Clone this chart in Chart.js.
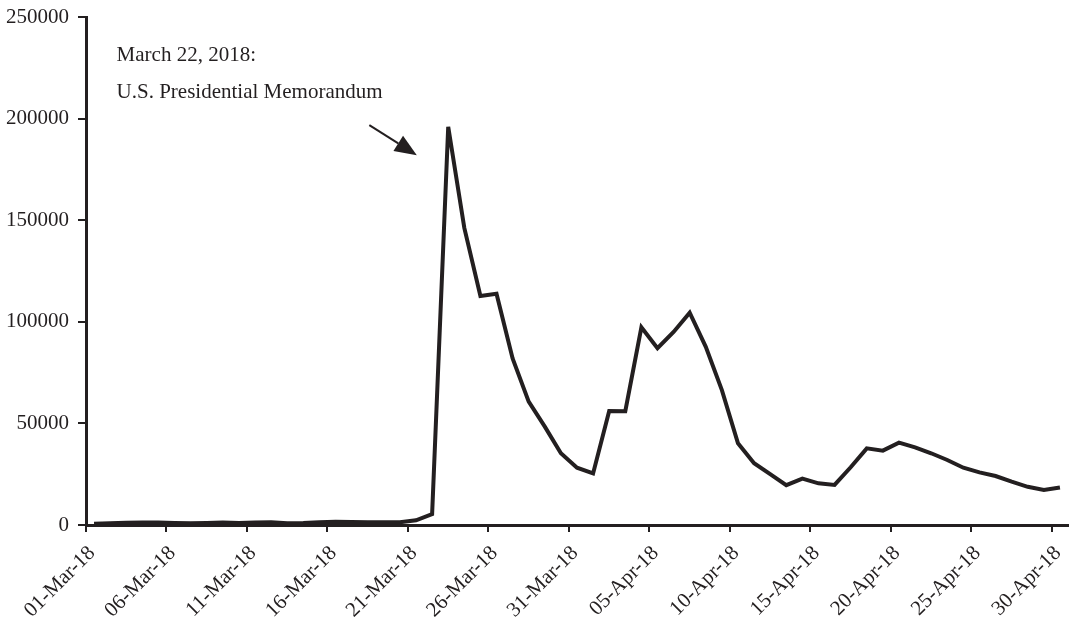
<!DOCTYPE html>
<html>
<head>
<meta charset="utf-8">
<script src="https://cdn.jsdelivr.net/npm/chart.js@4.4.1/dist/chart.umd.min.js"></script>
<style>
  html, body { margin: 0; padding: 0; background: #fff; }
  #wrap { width: 1071px; height: 619px; }
</style>
</head>
<body>
<div id="wrap"><canvas id="chart" width="1071" height="619"></canvas></div>
<script>
// ------------------------------------------------------------
// data — daily values, 01-Mar-18 .. 30-Apr-18
// ------------------------------------------------------------
const tickLabels = ['01-Mar-18', '06-Mar-18', '11-Mar-18', '16-Mar-18', '21-Mar-18', '26-Mar-18', '31-Mar-18',
                    '05-Apr-18', '10-Apr-18', '15-Apr-18', '20-Apr-18', '25-Apr-18', '30-Apr-18'];
const tickEvery  = 5;
const dailyVolume = [
    600,   900,  1100,  1200,  1200,  1000,   900,  1000,  1200,  1000,
   1200,  1300,   900,  1000,  1300,  1600,  1500,  1300,  1300,  1400,
   2300,  5400, 196000, 146200, 112700, 113800, 82000, 60700, 48400, 35300,
  28200, 25400, 56100, 56000, 97300, 87000, 95000, 104500, 87700, 66400,
  40200, 30400, 25000, 19600, 22800, 20500, 19700, 28400, 37700, 36600,
  40500, 38200, 35300, 32000, 28200, 25900, 24100, 21300, 18800, 17200,
  18500
];
const yTicks    = [0, 50000, 100000, 150000, 200000, 250000];
const noteLines = ['March 22, 2018:', 'U.S. Presidential Memorandum'];

const INK  = '#231f20';
const FONT = "'Liberation Serif', 'Times New Roman', serif";

Chart.defaults.font.family = FONT;
Chart.defaults.font.size   = 21;
Chart.defaults.color       = INK;

// annotation text + arrow, placed in data units
const notePlugin = {
  id: 'note',
  afterDraw(chart) {
    const { ctx, scales: { x, y } } = chart;
    ctx.save();
    ctx.fillStyle = INK;
    ctx.font = '21px ' + FONT;
    ctx.textBaseline = 'middle';
    ctx.textAlign = 'left';
    ctx.fillText(noteLines[0], x.getPixelForValue(1.4), y.getPixelForValue(231000));
    ctx.fillText(noteLines[1], x.getPixelForValue(1.4), y.getPixelForValue(213000));

    const x0 = x.getPixelForValue(17.1), y0 = y.getPixelForValue(196800);
    const x1 = x.getPixelForValue(20.05), y1 = y.getPixelForValue(182000);
    const ang = Math.atan2(y1 - y0, x1 - x0);
    const head = 22, half = 9;
    const bx = x1 - head * Math.cos(ang), by = y1 - head * Math.sin(ang);
    ctx.strokeStyle = INK;
    ctx.lineWidth = 2;
    ctx.beginPath();
    ctx.moveTo(x0, y0);
    ctx.lineTo(bx, by);
    ctx.stroke();
    ctx.beginPath();
    ctx.moveTo(x1, y1);
    ctx.lineTo(bx + half * Math.sin(ang), by - half * Math.cos(ang));
    ctx.lineTo(bx - half * Math.sin(ang), by + half * Math.cos(ang));
    ctx.closePath();
    ctx.fill();
    ctx.restore();
  }
};

new Chart(document.getElementById('chart'), {
  type: 'line',
  data: {
    datasets: [{
      data: dailyVolume.map((v, i) => ({ x: i, y: v })),
      borderColor: INK,
      borderWidth: 4,
      pointRadius: 0,
      tension: 0,
      fill: false,
      borderJoinStyle: 'miter'
    }]
  },
  options: {
    responsive: false,
    animation: false,
    layout: { padding: { top: 17, right: 3, left: 0, bottom: 0 } },
    plugins: { legend: { display: false }, tooltip: { enabled: false } },
    scales: {
      x: {
        type: 'linear',
        min: -0.5,
        max: 60.5,
        afterBuildTicks: s => { s.ticks = tickLabels.map((_, k) => ({ value: k * tickEvery - 0.5 })); },
        afterFit: s => { s.height = 94; s.paddingLeft = 0; s.paddingRight = 0; },
        grid: { drawOnChartArea: false, color: INK, lineWidth: 2, tickLength: 7 },
        border: { color: INK, width: 3 },
        ticks: {
          autoSkip: false,
          minRotation: 45,
          maxRotation: 45,
          padding: 9,
          labelOffset: 6,
          callback: (v, i) => tickLabels[i]
        }
      },
      y: {
        min: 0,
        max: 250000,
        afterBuildTicks: s => { s.ticks = yTicks.map(v => ({ value: v })); },
        afterFit: s => { s.width = 86; s.paddingTop = 0; s.paddingBottom = 0; },
        grid: { drawOnChartArea: false, color: INK, lineWidth: 2, tickLength: 8 },
        border: { color: INK, width: 3 },
        ticks: { padding: 9, callback: v => String(v) }
      }
    }
  },
  plugins: [notePlugin]
});
</script>
</body>
</html>
